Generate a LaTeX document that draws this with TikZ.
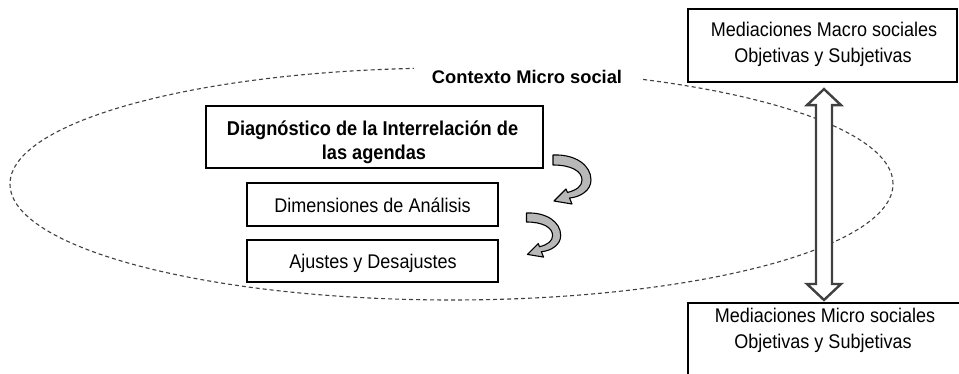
\documentclass[tikz,border=0pt]{standalone}
\usepackage{fontspec}
\setmainfont[FakeStretch=0.91]{Liberation Sans}
\newfontfamily\ctxfont{Liberation Sans}
\usetikzlibrary{calc}
\newcommand\curvedarrowpath{(0,0) .. controls (22,-1) and (38,10) .. (38,25) .. controls (38,35) and (28,42) .. (16.5,43) -- (19,49) -- (1,46) -- (13,34) -- (14.5,37.5) .. controls (24,35) and (29,31) .. (29,25) .. controls (29,16) and (18,10) .. (0,10) -- cycle}
\begin{document}
\begin{tikzpicture}[x=1pt,y=-1pt,
  txt/.style={font=\fontsize{19.8}{25}\selectfont, anchor=base, inner sep=0pt},
  btxt/.style={font=\fontsize{20}{25}\selectfont\bfseries, anchor=base, inner sep=0pt},
  box/.style={draw=black, line width=1.8pt, inner sep=0pt},
  curvarrow/.style={draw=black, line width=1.1pt, fill=black!28, line join=round},
  dblarrow/.style={draw=black!75, line width=2.4pt, fill=white, line join=miter}]
\useasboundingbox (0,0) rectangle (959,374);
\clip (0,0) rectangle (959,374);
% context ellipse
\draw[black!75, line width=1.1pt, dash pattern=on 4pt off 3pt] (451.5,184) ellipse [x radius=441.5pt, y radius=116pt];
\node[font=\ctxfont\fontsize{18.3}{20}\selectfont\bfseries, fill=white, inner xsep=0pt, minimum width=226pt, inner ysep=3pt] (ctx) at (527,77) {Contexto Micro social};
% boxes
\node[box, minimum width=337pt, minimum height=62pt] (diag) at (374.5,137) {};
\node[btxt] (diag1) at (372.5,135.5) {Diagnóstico de la Interrelación de};
\node[btxt] (diag2) at (374,160) {las agendas};
\node[box, minimum width=251pt, minimum height=43pt] (dim) at (372.5,204.5) {};
\node[txt] (dimt) at (372.5,212.3) {Dimensiones de Análisis};
\node[box, minimum width=251pt, minimum height=42pt] (aju) at (372.5,261) {};
\node[txt] (ajut) at (373,269) {Ajustes y Desajustes};
\node[box, line width=2.2pt, minimum width=269pt, minimum height=73pt] (macro) at (822.5,45.5) {};
\node[txt] (macro1) at (824,37) {Mediaciones Macro sociales};
\node[txt] (macro2) at (823,62.5) {Objetivas y Subjetivas};
\node[box, line width=2.2pt, minimum width=282pt, minimum height=100pt, anchor=north] (micro) at (829,302) {};
\node[txt] (micro1) at (825,323) {Mediaciones Micro sociales};
\node[txt] (micro2) at (823,348) {Objetivas y Subjetivas};
% curved arrows
\begin{scope}[shift={(553,155)}]
\draw[curvarrow] \curvedarrowpath;
\end{scope}
\begin{scope}[shift={(526.5,213)}, scale=0.9]
\draw[curvarrow] \curvedarrowpath;
\end{scope}
% double arrow between macro and micro
\coordinate (at) at ($(macro.south)+(1.5,6)$);
\coordinate (ab) at ($(at |- micro.north)+(0,-2)$);
\draw[dblarrow] (at) -- ++(17,16) -- ++(-9,0) -- ($(ab)+(8,-16)$) -- ++(9,0) -- (ab) -- ++(-17,-16) -- ++(9,0) -- ($(at)+(-8,16)$) -- ++(-9,0) -- cycle;
\end{tikzpicture}
\end{document}
